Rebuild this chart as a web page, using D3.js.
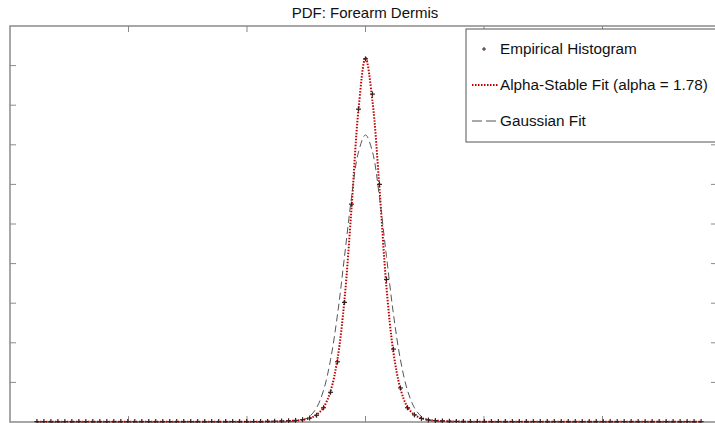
<!DOCTYPE html>
<html>
<head>
<meta charset="utf-8">
<script src="https://cdn.jsdelivr.net/npm/d3@7"></script>
<style>
  body { margin: 0; background: #fff; }
  svg { display: block; font-family: "Liberation Sans", Arial, sans-serif; }
</style>
</head>
<body>
<div id="chart"></div>
<script>
// Data (axis labels are not shown in the original)
var title = 'PDF: Forearm Dermis';
var legendLabels = ['Empirical Histogram', 'Alpha-Stable Fit (alpha = 1.78)', 'Gaussian Fit'];
var xTicks = [-2, -1, 0, 1, 2];
var yTicks = [1, 2, 3, 4, 5, 6, 7, 8, 9];
var binStart = -2.773;
var binWidth = 0.059;

var histValues = [
  0.01, 0.01, 0.01, 0.01, 0.01, 0.01, 0.01, 0.01, 0.01, 0.01,
  0.01, 0.01, 0.01, 0.01, 0.01, 0.01, 0.01, 0.01, 0.01, 0.01,
  0.01, 0.01, 0.01, 0.01, 0.01, 0.01, 0.01, 0.01, 0.01, 0.01,
  0.01, 0.01,
  0.01, 0.015, 0.02, 0.025, 0.03, 0.04, 0.06, 0.1, 0.17, 0.36,
  0.75, 1.52, 3.02, 5.5, 7.9, 9.17, 8.28, 6.0, 3.6, 1.84,
  0.86, 0.36, 0.18, 0.09, 0.05, 0.035, 0.025, 0.02, 0.015,
  0.01, 0.01, 0.01, 0.01, 0.01, 0.01, 0.01, 0.01, 0.01, 0.01,
  0.01, 0.01, 0.01, 0.01, 0.01, 0.01, 0.01, 0.01, 0.01, 0.01,
  0.01, 0.01, 0.01, 0.01, 0.01, 0.01, 0.01, 0.01, 0.01, 0.01,
  0.01, 0.01, 0.01, 0.01, 0.01
];

var alphaValues = [
  0.005, 0.005, 0.005, 0.005, 0.005, 0.005, 0.005, 0.005, 0.005, 0.005,
  0.005, 0.005, 0.005, 0.005, 0.005, 0.005, 0.005, 0.005, 0.005, 0.005,
  0.005, 0.005, 0.005, 0.005, 0.005, 0.005, 0.005, 0.005, 0.005, 0.005,
  0.005, 0.005,
  0.008, 0.01, 0.013, 0.018, 0.025, 0.035, 0.055, 0.095, 0.18, 0.37,
  0.78, 1.6, 3.1, 5.4, 7.9, 9.2, 8.1, 5.9, 3.4, 1.75,
  0.84, 0.38, 0.18, 0.095, 0.055, 0.035, 0.025, 0.018, 0.013,
  0.01, 0.008, 0.005, 0.005, 0.005, 0.005, 0.005, 0.005, 0.005, 0.005,
  0.005, 0.005, 0.005, 0.005, 0.005, 0.005, 0.005, 0.005, 0.005, 0.005,
  0.005, 0.005, 0.005, 0.005, 0.005, 0.005, 0.005, 0.005, 0.005, 0.005,
  0.005, 0.005, 0.005, 0.005, 0.005
];

var gaussValues = [
  0, 0, 0, 0, 0, 0, 0, 0, 0, 0,
  0, 0, 0, 0, 0, 0, 0, 0, 0, 0,
  0, 0, 0, 0, 0, 0, 0, 0, 0, 0,
  0, 0,
  0, 0, 0, 0, 0.004, 0.015, 0.05, 0.14, 0.36, 0.8,
  1.57, 2.72, 4.18, 5.67, 6.82, 7.25, 6.82, 5.67, 4.18, 2.72,
  1.57, 0.8, 0.36, 0.14, 0.05, 0.015, 0.004, 0, 0,
  0, 0, 0, 0, 0, 0, 0, 0, 0, 0,
  0, 0, 0, 0, 0, 0, 0, 0, 0, 0,
  0, 0, 0, 0, 0, 0, 0, 0, 0, 0,
  0, 0, 0, 0, 0
];

var width = 715, height = 423;
var plot = { left: 10, top: 26, right: 721, bottom: 422 };

var svg = d3.select('#chart').append('svg')
    .attr('width', width)
    .attr('height', height);

var x = d3.scaleLinear().domain([-3, 3]).range([plot.left, plot.right]);
var y = d3.scaleLinear().domain([0, 10]).range([plot.bottom, plot.top]);

var bins = histValues.map(function (v, i) { return binStart + i * binWidth; });

// axes box with inward ticks
var axisColor = '#8a8a8a';
var box = svg.append('g');
box.append('rect')
    .attr('x', plot.left).attr('y', plot.top)
    .attr('width', plot.right - plot.left).attr('height', plot.bottom - plot.top)
    .attr('fill', 'none').attr('stroke', axisColor).attr('stroke-width', 1.5);

box.selectAll('.xt-top').data(xTicks).enter().append('line')
    .attr('x1', (d) => x(d)).attr('x2', (d) => x(d))
    .attr('y1', plot.top).attr('y2', plot.top + 6)
    .attr('stroke', axisColor);
box.selectAll('.xt-bot').data(xTicks).enter().append('line')
    .attr('x1', (d) => x(d)).attr('x2', (d) => x(d))
    .attr('y1', plot.bottom).attr('y2', plot.bottom - 6)
    .attr('stroke', axisColor);
box.selectAll('.yt-left').data(yTicks).enter().append('line')
    .attr('x1', plot.left).attr('x2', plot.left + 6)
    .attr('y1', (d) => y(d)).attr('y2', (d) => y(d))
    .attr('stroke', axisColor);
box.selectAll('.yt-right').data(yTicks).enter().append('line')
    .attr('x1', plot.right).attr('x2', plot.right - 10)
    .attr('y1', (d) => y(d)).attr('y2', (d) => y(d))
    .attr('stroke', axisColor);

// curves
var line = d3.line()
    .x((d, i) => x(bins[i]))
    .y((d) => y(d))
    .curve(d3.curveCatmullRom);

svg.append('path')
    .datum(alphaValues)
    .attr('d', line)
    .attr('fill', 'none')
    .attr('stroke', '#c00000')
    .attr('stroke-width', 2)
    .attr('stroke-dasharray', '1.5,1.5');

svg.append('path')
    .datum(gaussValues)
    .attr('d', line)
    .attr('fill', 'none')
    .attr('stroke', '#555')
    .attr('stroke-width', 1)
    .attr('stroke-dasharray', '7,4');

// histogram markers
var plus = function (sel, size) {
    sel.append('line').attr('x1', -size).attr('x2', size).attr('y1', 0).attr('y2', 0);
    sel.append('line').attr('x1', 0).attr('x2', 0).attr('y1', -size).attr('y2', size);
};
svg.append('g').selectAll('g').data(histValues).enter().append('g')
    .attr('transform', (d, i) => `translate(${x(bins[i])},${y(d)})`)
    .attr('stroke', '#3a2020')
    .attr('stroke-width', 1.2)
    .each(function () { plus(d3.select(this), 2.5); });

// title
svg.append('text')
    .attr('x', 365).attr('y', 18)
    .attr('text-anchor', 'middle')
    .attr('font-size', 15)
    .attr('fill', '#111')
    .text(title);

// legend
var lg = svg.append('g');
lg.append('rect')
    .attr('x', 466).attr('y', 29)
    .attr('width', 270).attr('height', 113)
    .attr('fill', '#fff').attr('stroke', '#555').attr('stroke-width', 1);

var rowY = [49, 85, 121];
lg.append('g')
    .attr('transform', `translate(484,${rowY[0]})`)
    .attr('stroke', '#3a2020')
    .each(function () { plus(d3.select(this), 2); });
lg.append('line')
    .attr('x1', 472).attr('x2', 498).attr('y1', rowY[1]).attr('y2', rowY[1])
    .attr('stroke', '#c00000').attr('stroke-width', 2).attr('stroke-dasharray', '1.5,1.5');
lg.append('line')
    .attr('x1', 472).attr('x2', 498).attr('y1', rowY[2]).attr('y2', rowY[2])
    .attr('stroke', '#555').attr('stroke-width', 1).attr('stroke-dasharray', '10,4');

lg.selectAll('.lt').data(legendLabels).enter().append('text')
    .attr('x', 500)
    .attr('y', (d, i) => rowY[i] + 5)
    .attr('font-size', 15.3)
    .attr('fill', '#111')
    .text((d) => d);
</script>
</body>
</html>
